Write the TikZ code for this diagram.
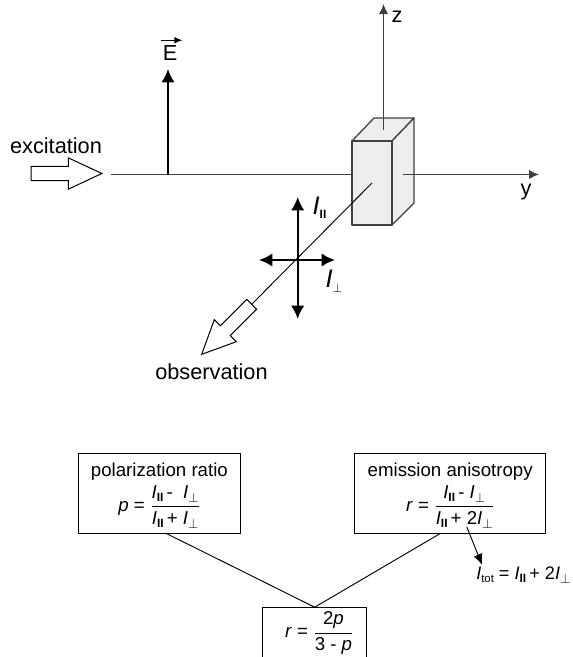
\documentclass[tikz,border=0pt]{standalone}
\usepackage{amsmath}
\usepackage{fontspec}
\setmainfont{Liberation Sans}
\usetikzlibrary{arrows.meta,positioning,calc,shapes.arrows}
\definecolor{Crystal}{HTML}{EEEEEE}
\definecolor{Axis}{HTML}{404040}
\newcommand{\Ipar}{\textit{I}\raisebox{-0.3ex}{\fontsize{9}{9}\selectfont\textbf{II}}}
\newcommand{\Iperp}{\textit{I}\raisebox{-0.35ex}{$\scriptstyle\perp$}}
\newcommand{\ratiotext}[2]{$\dfrac{\mbox{#1}}{\mbox{#2}}$}
\tikzset{
  biglabel/.style={font=\fontsize{16.3}{18}\selectfont, inner sep=0pt},
  intensity/.style={font=\fontsize{19}{21}\selectfont, inner sep=0pt},
  formula/.style={font=\fontsize{13.6}{16}\selectfont, inner sep=0pt},
  infobox/.style={draw=black, line width=0.75pt, fill=white, align=center, inner sep=0pt, minimum height=60pt, font=\fontsize{14}{16}\selectfont},
  hollowarrow/.style={draw=black, line width=0.75pt, fill=white, single arrow, single arrow head extend=6.4pt, single arrow tip angle=50, minimum width=22.5pt, minimum height=53pt, inner xsep=0pt, inner ysep=4.9pt, outer sep=0pt},
  crystal/.style={draw=Axis, line width=0.95pt, fill=Crystal, line join=round},
  axis/.style={draw=Axis, line width=0.95pt},
  arrow/.style={-{Latex[length=7.5pt,width=7pt]}, axis},
  fieldarrow/.style={-{Latex[length=10pt,width=10pt]}, draw=black, line width=1.6pt},
  thinline/.style={draw=black, line width=0.7pt}
}
\begin{document}
\begin{tikzpicture}[x=0.75pt,y=-0.75pt]
  \path[use as bounding box, clip] (0,0) rectangle (572,657);

  % sample block and axes
  \draw[crystal] (352,141) -- (374,118) -- (414,118) -- (392,141) -- cycle;
  \draw[crystal] (392,141) -- (414,118) -- (414,203) -- (392,225) -- cycle;
  \node[crystal, minimum width=30pt, minimum height=63pt, inner sep=0pt] (sample) at (372,183) {};
  \coordinate (zbase) at (383.5,130);
  \coordinate (ztip) at (383.5,4);
  \coordinate (ybase) at (403,174.5);
  \coordinate (ytip) at (539,174.5);
  \coordinate (linestart) at (111,174.5);
  \coordinate (efoot) at (168,174.5);
  \coordinate (etip) at (168,69);
  \coordinate (cross) at (297.7,260);
  \coordinate (crossup) at (297.7,197);
  \coordinate (crossdown) at (297.7,319);
  \coordinate (crossleft) at (259,260);
  \coordinate (crossright) at (335,260);

  \node[hollowarrow] (excite) at (59,173.5) {};
  \node[hollowarrow, rotate=225] (observe) at (232,324) {};

  \node[biglabel] (excitelabel) at (56,146) {excitation};
  \node[biglabel] (observelabel) at (211.5,372) {observation};
  \node[biglabel] (zlabel) at (397,17) {z};
  \node[biglabel] (ylabel) at (526,192) {y};
  \node[biglabel] (elabel) at (170,53) {E};
  \node[intensity] (parlabel) at (319.5,208) {\Ipar};
  \node[intensity] (perplabel) at (334,281) {\textit{I}\raisebox{-0.35ex}{$\scriptscriptstyle\perp$}};

  \draw[arrow] (zbase) -- (ztip);
  \draw[arrow] (ybase) -- (ytip);
  \draw[axis] (linestart) -- (linestart -| sample.west);
  \draw[thinline] (sample.center) -- (observe.tail);
  \draw[fieldarrow] (efoot) -- (etip);
  \draw[-{Latex[length=6pt,width=5pt]}, line width=1pt] ($(elabel.north west)+(-1,-5)$) -- ++(21,0);
  \draw[fieldarrow] (cross) -- (crossup);
  \draw[fieldarrow] (cross) -- (crossdown);
  \draw[fieldarrow] (cross) -- (crossleft);
  \draw[fieldarrow] (cross) -- (crossright);

  % relations between the quantities
  \node[infobox, minimum width=122pt] (polbox) at (159.4,493) {\rule{0pt}{14pt}polarization ratio\\[3pt]
    {\fontsize{14}{16}\selectfont\textit{p} = \ratiotext{\Ipar\,- \ \Iperp}{\Ipar\,+ \Iperp}}};
  \node[infobox, minimum width=143.25pt] (emibox) at (450.2,493) {\rule{0pt}{14pt}emission anisotropy\\[3pt]
    {\fontsize{14}{16}\selectfont\textit{r} = \ratiotext{\Ipar\,- \Iperp}{\Ipar\,+ 2\Iperp}}};
  \node[infobox, minimum width=78pt, minimum height=38.25pt] (ratiobox) at (314.7,633.2) {
    \hspace*{7pt}{\fontsize{14}{16}\selectfont\rule{0pt}{19pt}\textit{r} = \ratiotext{2\textit{p}}{3 - \textit{p}}}};
  \node[formula, anchor=west] (totlabel) at (476,575) {\textit{I}\raisebox{-0.3ex}{\fontsize{8.5}{8.5}\selectfont tot} = \Ipar\,+ 2\Iperp};
  \coordinate (totstart) at (466.7,526.7);

  \draw[thinline] ($(polbox.south)+(7,0)$) -- (ratiobox.north);
  \draw[thinline] ($(emibox.south)+(-10,0)$) -- (ratiobox.north);
  \draw[-{Latex[length=8pt,width=7pt]}, thinline] (totstart) -- ($(totlabel.north west)+(6,-2)$);
\end{tikzpicture}
\end{document}
